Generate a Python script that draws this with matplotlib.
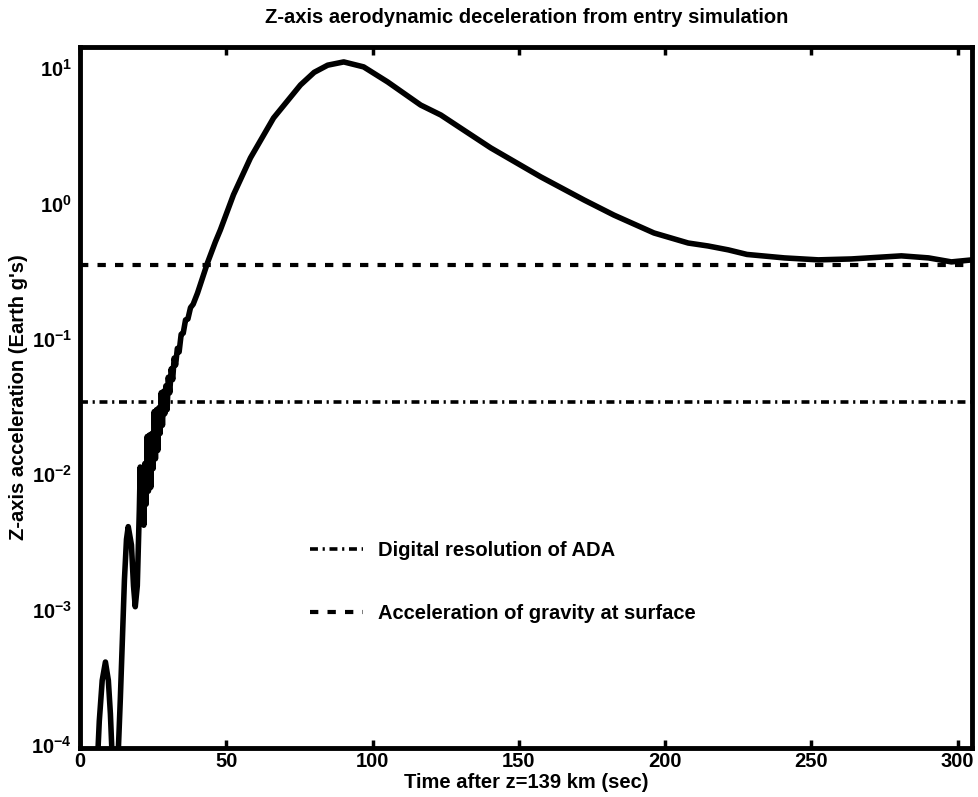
import matplotlib
matplotlib.use("Agg")
import matplotlib.pyplot as plt

plt.rcParams["font.family"] = ["Liberation Sans", "DejaVu Sans"]
plt.rcParams["font.weight"] = "bold"
plt.rcParams["mathtext.fontset"] = "custom"
plt.rcParams["mathtext.rm"] = "Liberation Sans:bold"
plt.rcParams["mathtext.it"] = "Liberation Sans:bold"
plt.rcParams["mathtext.bf"] = "Liberation Sans:bold"

# entry simulation
time_s = [5.5, 6.5, 7.5, 8.6, 9.6, 10.3, 11.3, 12.2, 13.0, 13.7, 14.4, 15.1, 15.8,
          16.4, 17.5, 18.2, 18.8, 19.5, 20.2,
          20.5, 20.9, 21.3, 21.7, 22.1, 22.5, 22.9, 23.3, 23.7, 24.1, 24.5, 24.9,
          25.3, 25.7, 26.1, 26.5, 26.9, 27.3, 27.7, 28.1, 28.5, 28.9, 29.3, 29.7,
          30.1, 30.6, 31.1, 31.6, 32.1, 32.6, 33.2, 33.8, 34.5, 35.2, 36.0, 36.8,
          37.7, 38.6, 40.1, 43.5, 46.2, 47.9, 52.4, 58.2, 66.1, 75.3, 80.0, 84.6,
          90.1, 96.9, 105.1, 116.4, 123.3, 130.1, 140.4, 157.5, 172.3, 182.5,
          196.2, 207.9, 214.7, 221.6, 228.0, 240.8, 252.4, 263.7, 280.8, 290.1,
          297.9, 305.0]
accel_g = [5e-5, 1.5e-4, 3.0e-4, 4.1e-4, 3.0e-4, 1.7e-4, 5e-5, 3e-5, 9e-5, 2.2e-4,
           6.0e-4, 1.66e-3, 3.3e-3, 4.1e-3, 3.0e-3, 1.5e-3, 1.05e-3, 1.5e-3, 5.5e-3,
           0.0113, 0.0045, 0.0110, 0.0042, 0.0120, 0.0060, 0.0190, 0.0075, 0.0195,
           0.0080, 0.0200, 0.0110, 0.0290, 0.0130, 0.0300, 0.0150, 0.0310, 0.0200,
           0.0400, 0.0230, 0.0410, 0.0280, 0.0450, 0.0300, 0.0520, 0.0400, 0.060,
           0.050, 0.072, 0.064, 0.085, 0.080, 0.108, 0.110, 0.138, 0.140, 0.170,
           0.180, 0.218, 0.364, 0.52, 0.637, 1.16, 2.17, 4.28, 7.5, 9.3, 10.5,
           11.1, 10.2, 7.9, 5.33, 4.5, 3.6, 2.57, 1.57, 1.06, 0.82, 0.605, 0.51,
           0.485, 0.454, 0.42, 0.396, 0.383, 0.389, 0.41, 0.396, 0.37, 0.383]

ada_resolution_g = 0.034
surface_gravity_g = 0.35

fig = plt.figure(figsize=(9.79, 7.97), dpi=100)
ax = fig.add_axes([0.082, 0.0615, 0.911, 0.8795])

ax.plot(time_s, accel_g, color="black", lw=4.0, solid_joinstyle="round")
ax.axhline(ada_resolution_g, color="black", lw=2.6, ls=(0, (2.2, 1.3, 0.6, 1.3)),
           label="Digital resolution of ADA")
ax.axhline(surface_gravity_g, color="black", lw=3.0, ls=(0, (2.0, 2.2)),
           label="Acceleration of gravity at surface")

ax.set_yscale("log")
ax.set_xlim(0, 305)
ax.set_ylim(9.5e-5, 14.3)
ax.set_xticks([0, 50, 100, 150, 200, 250, 300])
ax.set_yticks([1e-4, 1e-3, 1e-2, 1e-1, 1e0, 1e1])
ax.minorticks_off()

for s in ax.spines.values():
    s.set_linewidth(3.5)
ax.tick_params(axis="x", direction="in", top=True, length=6, width=2.5,
               labelsize=14.5, pad=3)
ax.tick_params(axis="y", length=0, labelsize=14.5, pad=6)

ax.set_title("Z-axis aerodynamic deceleration from entry simulation",
             fontsize=14.5, fontweight="bold", pad=17)
ax.set_xlabel("Time after z=139 km (sec)", fontsize=14.5, fontweight="bold", labelpad=1)
ax.set_ylabel("Z-axis acceleration (Earth g's)", fontsize=14.5, fontweight="bold", labelpad=2)

ax.legend(loc="center left", bbox_to_anchor=(0.258, 0.237), frameon=False,
          fontsize=14.5, handlelength=2.6, handletextpad=0.75, labelspacing=2.2,
          borderpad=0, borderaxespad=0)

fig.savefig("out.png", dpi=100)
